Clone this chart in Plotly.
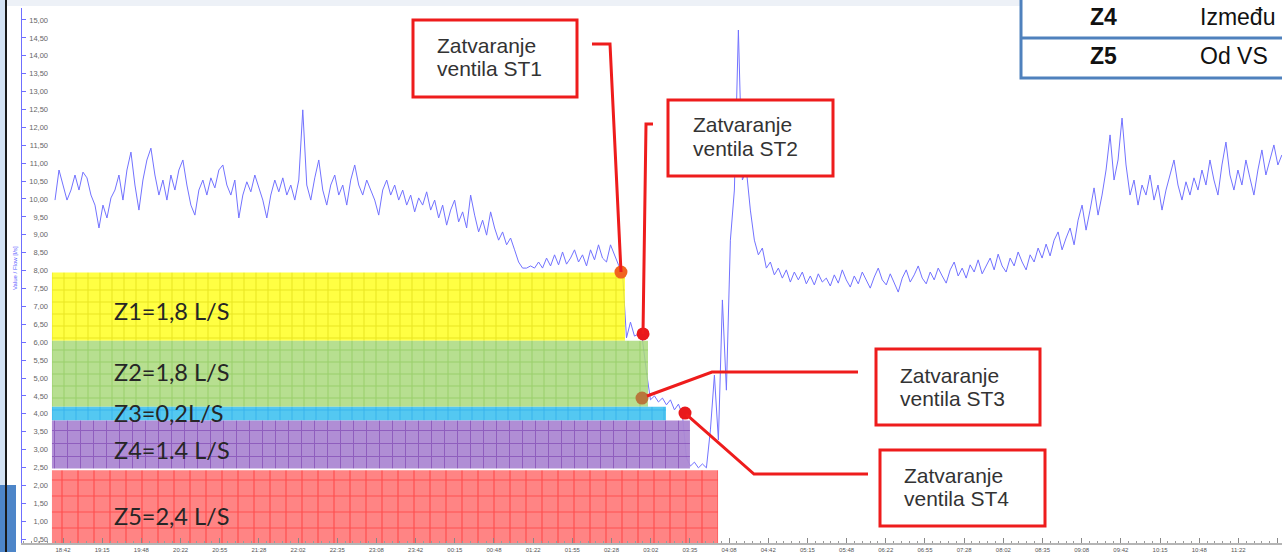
import plotly.graph_objects as go

# ---------------- data ----------------
t_start = 1115.2      # minutes after midnight of day 1 (first sample)
t_step = 3.4          # sampling interval, minutes
flow = [
    9.97, 10.81, 10.39, 9.97, 10.25, 10.67, 10.25, 10.75, 10.59, 10.11,
    9.83, 9.19, 9.83, 9.47, 10.03, 10.25, 10.67, 9.97, 10.81, 11.31,
    10.39, 9.69, 10.53, 11.09, 11.42, 10.67, 10.11, 10.53, 9.97, 10.67,
    10.25, 10.81, 11.09, 10.39, 9.83, 9.55, 10.25, 10.53, 10.11, 10.59,
    10.31, 10.81, 10.95, 10.39, 10.11, 10.53, 9.47, 10.11, 10.48, 10.20,
    10.67, 10.31, 9.97, 9.47, 10.11, 10.53, 10.20, 10.59, 10.11, 10.39,
    9.97, 10.53, 12.49, 10.39, 9.97, 10.59, 11.09, 10.25, 9.83, 10.39,
    10.67, 10.11, 10.39, 9.83, 10.53, 10.95, 10.39, 10.11, 10.53, 10.25,
    9.97, 9.55, 10.25, 10.53, 10.11, 10.39, 9.97, 10.25, 9.83, 10.11,
    9.64, 10.03, 9.83, 10.20, 9.69, 9.97, 9.47, 9.83, 9.27, 9.69,
    9.97, 9.36, 9.64, 9.19, 10.11, 9.55, 9.08, 9.41, 8.99, 9.64,
    9.19, 8.85, 9.08, 8.72, 8.91, 8.58, 8.24, 8.07, 8.07, 8.13,
    8.07, 8.24, 8.07, 8.35, 8.13, 8.44, 8.16, 8.52, 8.18, 8.35,
    8.58, 8.24, 8.44, 8.13, 8.58, 8.30, 8.72, 8.35, 8.24, 8.72,
    8.44, 8.16, 7.96, 6.12, 6.56, 6.17, 6.23, 6.06, 5.17, 4.39,
    4.50, 4.33, 4.44, 4.25, 4.39, 4.11, 4.27, 3.97, 2.77, 2.54,
    2.65, 2.49, 2.60, 2.49, 3.55, 5.08, 3.27, 7.18, 4.66, 8.85,
    10.25, 14.72, 10.53, 10.81, 9.69, 8.85, 8.44, 8.63, 8.07, 8.24,
    7.88, 8.07, 7.79, 8.02, 7.68, 7.96, 7.74, 7.96, 7.63, 7.85,
    7.60, 7.91, 7.68, 7.79, 7.57, 7.88, 7.65, 8.02, 7.74, 7.54,
    7.85, 7.63, 7.96, 7.71, 7.51, 7.82, 8.07, 7.74, 7.60, 7.91,
    7.65, 7.40, 7.79, 8.02, 7.68, 7.88, 8.13, 7.79, 7.63, 7.96,
    7.74, 8.07, 7.85, 7.65, 8.02, 8.24, 7.85, 8.07, 7.79, 8.16,
    7.96, 8.30, 7.91, 8.13, 8.35, 8.02, 8.46, 8.13, 7.96, 8.35,
    8.13, 8.52, 8.24, 8.02, 8.44, 8.24, 8.63, 8.35, 8.74, 8.41,
    8.85, 9.08, 8.58, 8.91, 9.19, 8.72, 9.41, 9.83, 9.13, 9.69,
    10.31, 9.55, 10.11, 10.81, 11.79, 10.53, 11.09, 12.26, 10.95, 10.11,
    10.53, 9.83, 10.39, 10.11, 10.67, 9.97, 10.39, 9.69, 10.25, 10.67,
    11.09, 10.39, 9.97, 10.48, 10.11, 10.59, 10.25, 10.81, 10.39, 11.09,
    10.53, 10.11, 10.95, 11.59, 10.67, 10.25, 10.81, 10.39, 11.09, 10.59,
    10.11, 10.81, 11.37, 10.67, 11.09, 11.51, 10.95, 11.23,
]

tick_start = 1122.0       # 18:42
tick_step = 33.3333       # minutes between labelled ticks
tick_labels = [
    "18:42", "19:15", "19:48", "20:22", "20:55", "21:28", "22:02", "22:35",
    "23:08", "23:42", "00:15", "00:48", "01:22", "01:55", "02:28", "03:02",
    "03:35", "04:08", "04:42", "05:15", "05:48", "06:22", "06:55", "07:28",
    "08:02", "08:35", "09:08", "09:42", "10:15", "10:48", "11:22", "11:55",
]

zone_names = ["Z1", "Z2", "Z3", "Z4", "Z5"]
zone_text = ["Z1=1,8 L/S", "Z2=1,8 L/S", "Z3=0,2L/S", "Z4=1.4 L/S", "Z5=2,4 L/S"]
zone_top = [7.95, 6.04, 4.20, 3.81, 2.42]
zone_bottom = [6.04, 4.20, 3.81, 2.47, 0.39]
zone_start = 1112.6
zone_end = [1600.1, 1619.7, 1635.0, 1655.4, 1679.3]
zone_label_v = [6.86, 5.17, 4.02, 2.99, 1.15]
zone_label_t = 1164.0

valve_names = ["ST1", "ST2", "ST3", "ST4"]
valve_t = [1596.7, 1615.5, 1614.6, 1651.2]
valve_v = [7.96, 6.23, 4.44, 4.02]

table_zone = ["Z4", "Z5"]
table_desc = ["Između", "Od VS"]

# ---------------- styles ----------------
zone_style = [
    dict(bg="rgba(255,255,20,0.80)", fg="#d2cc00", size=12, sol=0.16),
    dict(bg="rgba(170,218,125,0.85)", fg="#7cbf45", size=12, sol=0.16),
    dict(bg="rgba(70,196,240,0.92)", fg="#1a9fe6", size=12, sol=0.16),
    dict(bg="rgba(172,136,210,0.95)", fg="#6f30a8", size=13, sol=0.15),
    dict(bg="rgba(255,125,125,0.95)", fg="#ff1a1a", size=16, sol=0.15),
]
valve_color = ["#f0641e", "#e8191c", "#b8763c", "#e8191c"]
RED = "#ee1c1c"

L, T, W, H = 22, 8, 1260, 535
FIG_W, FIG_H = 1282, 552


def px(x):
    return (x - L) / W


def py(y):
    return (T + H - y) / H


times = [t_start + i * t_step for i in range(len(flow))]
x_range = [tick_start - 41 / 1.1754, tick_start + (FIG_W - 63) / 1.1754]
y_range = [0.391, 15.335]

fig = go.Figure()

# flow line
fig.add_trace(go.Scatter(x=times, y=flow, mode="lines",
                         line=dict(color="#7272ff", width=1),
                         hoverinfo="skip", showlegend=False))

# zone bands
for k in range(len(zone_names)):
    s = zone_style[k]
    fig.add_trace(go.Scatter(
        x=[zone_start, zone_end[k], zone_end[k], zone_start, zone_start],
        y=[zone_bottom[k], zone_bottom[k], zone_top[k], zone_top[k], zone_bottom[k]],
        mode="lines", line=dict(width=0), fill="toself", fillcolor=s["bg"],
        fillpattern=dict(shape="+", size=s["size"], solidity=s["sol"],
                         fgcolor=s["fg"], fillmode="overlay"),
        hoverinfo="skip", showlegend=False, name=zone_names[k]))

# valve closing points
fig.add_trace(go.Scatter(x=valve_t, y=valve_v, mode="markers",
                         marker=dict(size=13, color=valve_color, line=dict(width=0)),
                         hoverinfo="skip", showlegend=False))

# dummy trace for the labelled axis
fig.add_trace(go.Scatter(x=[None], y=[None], yaxis="y2", showlegend=False))

shapes = []
annotations = []

# slide background bits
shapes.append(dict(type="rect", xref="paper", yref="paper", x0=px(0), x1=px(FIG_W),
                   y0=py(0), y1=py(6), fillcolor="#edf1f7", line=dict(width=0), layer="below"))
shapes.append(dict(type="rect", xref="paper", yref="paper", x0=px(0), x1=px(5),
                   y0=py(0), y1=py(FIG_H), fillcolor="#d3e2f3", line=dict(width=0), layer="above"))
shapes.append(dict(type="rect", xref="paper", yref="paper", x0=px(0), x1=px(16),
                   y0=py(485), y1=py(FIG_H), fillcolor="#4d85c8", line=dict(width=0), layer="above"))
shapes.append(dict(type="line", xref="paper", yref="paper", x0=px(6), x1=px(6),
                   y0=py(0), y1=py(FIG_H), line=dict(color="#1a1a1a", width=2), layer="above"))

# annotation boxes
boxes = [
    (413, 20, 577, 97, 435, 45, 68, "ST1"),
    (668, 100, 833, 176, 691, 125, 148, "ST2"),
    (876, 349, 1040, 425, 898, 375, 398, "ST3"),
    (880, 450, 1045, 526, 902, 475, 498, "ST4"),
]
for (x0, y0, x1, y1, tx, ty1, ty2, nm) in boxes:
    shapes.append(dict(type="rect", xref="paper", yref="paper",
                       x0=px(x0), x1=px(x1), y0=py(y1), y1=py(y0),
                       fillcolor="white", line=dict(color=RED, width=3), layer="above"))
    annotations.append(dict(xref="paper", yref="paper", x=px(tx), y=py(ty1),
                            xanchor="left", yanchor="middle", showarrow=False,
                            text="Zatvaranje",
                            font=dict(family="Liberation Sans", size=21, color="#333333")))
    annotations.append(dict(xref="paper", yref="paper", x=px(tx), y=py(ty2),
                            xanchor="left", yanchor="middle", showarrow=False,
                            text="ventila " + nm,
                            font=dict(family="Liberation Sans", size=21, color="#333333")))

# connectors
connectors = [
    [(592, 44), (610, 44), (621, 272)],
    [(653, 124), (646, 124), (643, 334)],
    [(858, 372), (712, 372), (647, 396)],
    [(868, 474), (754, 474), (686, 414)],
]
for pts in connectors:
    path = "M " + " L ".join(f"{px(a):.5f},{py(b):.5f}" for a, b in pts)
    shapes.append(dict(type="path", xref="paper", yref="paper", path=path,
                       line=dict(color=RED, width=3), layer="above"))

# zone labels
for k in range(len(zone_names)):
    annotations.append(dict(xref="x", yref="y", x=zone_label_t, y=zone_label_v[k],
                            xanchor="left", yanchor="middle", showarrow=False,
                            text=zone_text[k],
                            font=dict(family="Lato", size=23.5, color="#262626")))

# table (top right)
shapes.append(dict(type="rect", xref="paper", yref="paper", x0=px(1021), x1=px(1300),
                   y0=py(78), y1=py(-10), fillcolor="white",
                   line=dict(color="#4f81bd", width=3), layer="above"))
shapes.append(dict(type="line", xref="paper", yref="paper", x0=px(1021), x1=px(1300),
                   y0=py(38), y1=py(38), line=dict(color="#4f81bd", width=3), layer="above"))
for r, zy in enumerate([17, 56]):
    annotations.append(dict(xref="paper", yref="paper", x=px(1103), y=py(zy),
                            xanchor="center", yanchor="middle", showarrow=False,
                            text="<b>" + table_zone[r] + "</b>",
                            font=dict(family="Liberation Sans", size=23, color="#111111")))
    annotations.append(dict(xref="paper", yref="paper", x=px(1198), y=py(zy),
                            xanchor="left", yanchor="middle", showarrow=False,
                            text=table_desc[r],
                            font=dict(family="Liberation Sans", size=23, color="#111111")))

# y-axis title
annotations.append(dict(xref="paper", yref="paper", x=px(15), y=py(268),
                        xanchor="center", yanchor="middle", showarrow=False,
                        textangle=-90, text="Value / Flow [l/s]",
                        font=dict(family="Liberation Sans", size=6, color="#5a5aff")))

fig.update_layout(
    width=FIG_W, height=FIG_H, autosize=False,
    margin=dict(l=L, r=FIG_W - L - W, t=T, b=FIG_H - T - H, pad=0),
    paper_bgcolor="white", plot_bgcolor="white",
    separators=", ",
    showlegend=False,
    xaxis=dict(range=x_range, tickmode="array",
               tickvals=[tick_start + k * tick_step for k in range(len(tick_labels))],
               ticktext=tick_labels, ticks="inside", ticklen=5, tickcolor="#888888",
               showline=True, linecolor="#b5b5b5", linewidth=2,
               tickfont=dict(family="Liberation Sans", size=6, color="#555555"),
               showgrid=False, zeroline=False, automargin=False,
               minor=dict(tick0=tick_start, dtick=tick_step / 5, ticks="inside",
                          ticklen=2, tickcolor="#999999", showgrid=False)),
    yaxis=dict(range=y_range, tick0=0, dtick=0.5, ticks="inside", ticklen=4,
               tickcolor="#6f6fff", showline=True, linecolor="#6f6fff", linewidth=1,
               showticklabels=False, showgrid=False, zeroline=False, automargin=False),
    yaxis2=dict(range=y_range, overlaying="y", anchor="free", position=px(48), side="left",
                tick0=0, dtick=0.5, tickformat=".2f", ticks="", showline=False,
                showgrid=False, zeroline=False, automargin=False,
                tickfont=dict(family="Liberation Sans", size=7.5, color="#666666")),
    shapes=shapes, annotations=annotations,
)

fig.write_html("out.html",
               config={"displayModeBar": False},
               post_script="document.body.style.margin='0';document.body.style.overflow='hidden';")
